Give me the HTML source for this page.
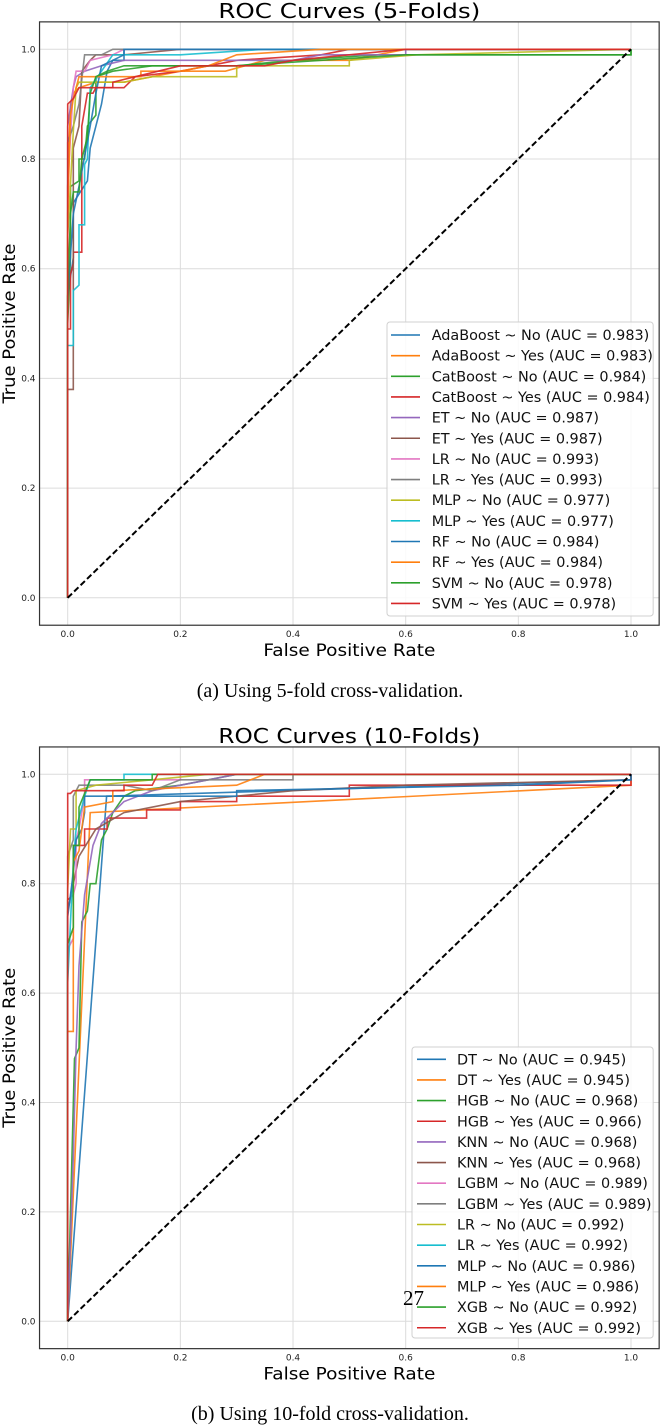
<!DOCTYPE html>
<html><head><meta charset="utf-8">
<style>
html,body{margin:0;padding:0;background:#fff;}
svg{display:block;}
text{font-family:"DejaVu Sans","Liberation Sans",sans-serif;}
.serif{font-family:"Liberation Serif",serif;}
</style></head>
<body>
<svg id="fig" width="661" height="1425" viewBox="0 0 661 1425" xmlns="http://www.w3.org/2000/svg">
<g id="chartA"></g>
<g id="chartB"></g>
<text x="330" y="697" text-anchor="middle" font-size="20" class="serif">(a) Using 5-fold cross-validation.</text>
<text x="330" y="1420" text-anchor="middle" font-size="20" class="serif">(b) Using 10-fold cross-validation.</text>
</svg>
<script>
const ticks = [0, 0.2, 0.4, 0.6, 0.8, 1.0];
const tickLabels = ["0.0", "0.2", "0.4", "0.6", "0.8", "1.0"];
const colors = ["#1f77b4","#ff7f0e","#2ca02c","#d62728","#9467bd","#8c564b","#e377c2","#7f7f7f","#bcbd22","#17becf","#1f77b4","#ff7f0e","#2ca02c","#d62728"];

const namesA = ["AdaBoost ~ No","AdaBoost ~ Yes","CatBoost ~ No","CatBoost ~ Yes","ET ~ No","ET ~ Yes","LR ~ No","LR ~ Yes","MLP ~ No","MLP ~ Yes","RF ~ No","RF ~ Yes","SVM ~ No","SVM ~ Yes"];
const aucA = ["0.983","0.983","0.984","0.984","0.987","0.987","0.993","0.993","0.977","0.977","0.984","0.984","0.978","0.978"];
const curvesA = [
 [[0,0],[0,0.55],[0.01,0.62],[0.01,0.72],[0.035,0.76],[0.04,0.82],[0.05,0.86],[0.06,0.9],[0.07,0.96],[0.08,0.98],[0.1,0.98],[0.1,1],[1,1]],
 [[0,0],[0,0.75],[0.005,0.9],[0.01,0.92],[0.02,0.93],[0.05,0.94],[0.1,0.94],[0.15,0.95],[0.2,0.96],[0.28,0.96],[0.35,0.98],[0.5,0.98],[0.6,1],[1,1]],
 [[0,0],[0,0.5],[0.005,0.62],[0.005,0.75],[0.02,0.76],[0.02,0.8],[0.03,0.8],[0.035,0.86],[0.05,0.88],[0.05,0.95],[0.08,0.96],[0.15,0.97],[0.3,0.97],[0.4,0.98],[0.55,0.99],[1,0.99],[1,1]],
 [[0,0],[0,0.49],[0.005,0.49],[0.005,0.59],[0.01,0.61],[0.01,0.63],[0.025,0.63],[0.025,0.86],[0.035,0.92],[0.045,0.92],[0.05,0.93],[0.1,0.93],[0.12,0.95],[0.2,0.96],[0.25,0.97],[0.3,0.98],[0.45,0.99],[0.5,1],[1,1]],
 [[0,0],[0,0.86],[0.01,0.93],[0.015,0.95],[0.03,0.96],[0.06,0.97],[0.1,0.98],[0.4,0.98],[0.45,0.99],[0.6,0.99],[0.6,1],[1,1]],
 [[0,0],[0,0.38],[0.01,0.38],[0.01,0.82],[0.02,0.86],[0.025,0.96],[0.04,0.98],[0.05,0.99],[0.1,0.99],[0.2,1],[1,1]],
 [[0,0],[0,0.75],[0.01,0.93],[0.015,0.96],[0.03,0.96],[0.04,0.98],[0.08,0.99],[0.1,1],[1,1]],
 [[0,0],[0,0.83],[0.01,0.86],[0.02,0.9],[0.03,0.99],[0.06,0.99],[0.08,1],[1,1]],
 [[0,0],[0,0.66],[0.01,0.85],[0.015,0.93],[0.02,0.94],[0.1,0.94],[0.15,0.95],[0.3,0.95],[0.3,0.97],[0.5,0.97],[0.5,0.98],[0.62,0.99],[1,1]],
 [[0,0],[0,0.46],[0.01,0.46],[0.01,0.56],[0.02,0.57],[0.02,0.68],[0.03,0.68],[0.03,0.79],[0.035,0.8],[0.04,0.93],[0.06,0.96],[0.08,0.99],[0.2,0.99],[0.35,1],[1,1]],
 [[0,0],[0,0.55],[0.01,0.7],[0.02,0.75],[0.04,0.86],[0.05,0.92],[0.06,0.97],[0.08,0.98],[0.1,0.99],[0.1,1],[1,1]],
 [[0,0],[0,0.7],[0.005,0.88],[0.01,0.91],[0.02,0.95],[0.13,0.95],[0.13,0.96],[0.2,0.96],[0.25,0.97],[0.3,0.99],[0.45,1],[1,1]],
 [[0,0],[0,0.55],[0.005,0.7],[0.01,0.74],[0.02,0.74],[0.025,0.8],[0.035,0.84],[0.04,0.92],[0.05,0.95],[0.07,0.96],[0.1,0.97],[0.3,0.97],[0.45,0.98],[0.6,0.99],[1,0.99],[1,1]],
 [[0,0],[0,0.9],[0.01,0.91],[0.02,0.93],[0.08,0.93],[0.08,0.94],[0.12,0.95],[0.2,0.97],[0.35,0.97],[0.4,0.98],[0.5,0.99],[0.6,1],[1,1]]
];

const namesB = ["DT ~ No","DT ~ Yes","HGB ~ No","HGB ~ Yes","KNN ~ No","KNN ~ Yes","LGBM ~ No","LGBM ~ Yes","LR ~ No","LR ~ Yes","MLP ~ No","MLP ~ Yes","XGB ~ No","XGB ~ Yes"];
const aucB = ["0.945","0.945","0.968","0.966","0.968","0.968","0.989","0.989","0.992","0.992","0.986","0.986","0.992","0.992"];
const curvesB = [
 [[0,0],[0.069,0.96],[1,0.99],[1,1]],
 [[0,0],[0.04,0.93],[1,0.98],[1,1]],
 [[0,0],[0.012,0.48],[0.02,0.5],[0.025,0.73],[0.035,0.75],[0.04,0.8],[0.05,0.8],[0.06,0.88],[0.07,0.9],[0.08,0.93],[0.1,0.96],[0.12,0.97],[0.2,0.98],[0.3,1],[1,1]],
 [[0,0],[0,0.77],[0.01,0.78],[0.01,0.87],[0.03,0.87],[0.03,0.9],[0.07,0.9],[0.07,0.92],[0.14,0.92],[0.14,0.935],[0.2,0.935],[0.2,0.95],[0.3,0.95],[0.3,0.96],[0.5,0.96],[0.5,0.98],[1,0.98],[1,1]],
 [[0,0],[0.01,0.3],[0.015,0.5],[0.02,0.65],[0.03,0.78],[0.045,0.87],[0.06,0.91],[0.1,0.95],[0.15,0.97],[0.2,0.98],[0.25,0.99],[0.3,1],[1,1]],
 [[0,0],[0,0.75],[0.02,0.85],[0.05,0.9],[0.1,0.93],[0.2,0.95],[0.4,0.97],[0.6,0.98],[1,0.99],[1,1]],
 [[0,0],[0,0.68],[0.01,0.7],[0.01,0.78],[0.015,0.8],[0.015,0.88],[0.02,0.9],[0.03,0.96],[0.03,0.99],[0.2,0.99],[0.2,1],[1,1]],
 [[0,0],[0,0.85],[0.01,0.88],[0.01,0.96],[0.02,0.98],[0.1,0.98],[0.15,0.97],[0.2,0.99],[0.4,0.99],[0.4,1],[1,1]],
 [[0,0],[0,0.79],[0.005,0.9],[0.015,0.9],[0.015,0.97],[0.05,0.98],[0.15,0.99],[0.25,1],[1,1]],
 [[0,0],[0,0.62],[0.01,0.84],[0.015,0.9],[0.03,0.96],[0.04,0.99],[0.1,0.99],[0.1,1],[1,1]],
 [[0,0],[0,0.74],[0.01,0.82],[0.015,0.88],[0.025,0.9],[0.03,0.93],[0.03,0.96],[0.08,0.96],[0.3,0.96],[0.3,0.97],[0.8,0.98],[1,0.99],[1,1]],
 [[0,0],[0,0.53],[0.01,0.53],[0.01,0.84],[0.02,0.86],[0.03,0.94],[0.08,0.95],[0.08,0.97],[0.3,0.98],[0.35,1],[1,1]],
 [[0,0],[0,0.69],[0.01,0.72],[0.01,0.87],[0.02,0.87],[0.02,0.94],[0.04,0.99],[0.15,0.99],[0.15,1],[1,1]],
 [[0,0],[0,0.965],[0.005,0.965],[0.01,0.97],[0.1,0.97],[0.1,0.98],[0.15,0.98],[0.16,1],[1,1]]
];

const NS = "http://www.w3.org/2000/svg";
function mk(tag, attrs, parent){
  const e = document.createElementNS(NS, tag);
  for (const k in attrs) e.setAttribute(k, attrs[k]);
  parent.appendChild(e);
  return e;
}

function drawChart(g, cfg){
  const x0 = 67.7, x1 = 631.0;
  const sx = v => x0 + v * (x1 - x0);
  const sy = v => cfg.y0 + v * (cfg.y1 - cfg.y0);
  const left = sx(-0.05), right = sx(1.05), top = sy(1.05), bottom = sy(-0.05);

  ticks.forEach((t, i) => {
    const gx = mk("line", {x1: sx(t), x2: sx(t), y1: top, y2: bottom, stroke: "#dcdcdc", "stroke-width": 1}, g);
    
    
    const gy = mk("line", {x1: left, x2: right, y1: sy(t), y2: sy(t), stroke: "#dcdcdc", "stroke-width": 1}, g);
    
    
    const tx = mk("text", {x: sx(t), y: bottom + 12, "text-anchor": "middle", "font-size": 9, fill: "#222"}, g);
    tx.textContent = tickLabels[i];
    
    
    const ty = mk("text", {x: left - 4, y: sy(t) + 3, "text-anchor": "end", "font-size": 9, fill: "#222"}, g);
    ty.textContent = tickLabels[i];
    
    
  });

  cfg.curves.forEach((c, i) => {
    const d = c.map((p, j) => (j ? "L" : "M") + sx(p[0]).toFixed(1) + " " + sy(p[1]).toFixed(1)).join(" ");
    const path = mk("path", {d: d, fill: "none", stroke: colors[i], "stroke-width": 1.6, "stroke-linejoin": "miter", opacity: 0.9}, g);
    
    
  });
  const diag = mk("line", {x1: sx(0), y1: sy(0), x2: sx(1), y2: sy(1), stroke: "#000", "stroke-width": 2, "stroke-dasharray": "6,3"}, g);
  
  

  const fr = mk("rect", {x: left, y: top, width: right - left, height: bottom - top, fill: "none", stroke: "#333", "stroke-width": 1.2}, g);
  
  

  const cx = (left + right) / 2;
  const ti = mk("text", {x: cx, y: cfg.titleY, "text-anchor": "middle", "font-size": 20, fill: "#000", textLength: 262, lengthAdjust: "spacingAndGlyphs"}, g);
  ti.textContent = cfg.title;
  
  
  const xl = mk("text", {x: cx, y: bottom + 31, "text-anchor": "middle", "font-size": 17, fill: "#000", textLength: 172, lengthAdjust: "spacingAndGlyphs"}, g);
  xl.textContent = "False Positive Rate";
  
  
  const cy = (top + bottom) / 2;
  const yl = mk("text", {x: 15, y: cy, "text-anchor": "middle", "font-size": 17, fill: "#000", transform: "rotate(-90 15 " + cy + ")", textLength: 160, lengthAdjust: "spacingAndGlyphs"}, g);
  yl.textContent = "True Positive Rate";
  
  

  const L = cfg.legend;
  const lb = mk("rect", {x: L.x, y: L.y, width: right - 6 - L.x, height: L.h, rx: 3, fill: "#fff", "fill-opacity": 0.85, stroke: "#d0d0d0", "stroke-width": 1}, g);
  
  
  cfg.names.forEach((n, i) => {
    const yy = L.first + i * 20.65;
    const ln = mk("line", {x1: L.lx, x2: L.lx + 29, y1: yy, y2: yy, stroke: colors[i], "stroke-width": 1.6}, g);
    
    
    const tt = mk("text", {x: L.tx, y: yy + 5, "font-size": 14.4, fill: "#111"}, g);
    tt.textContent = n + " (AUC = " + cfg.aucs[i] + ")";
    
    
  });
}

drawChart(document.getElementById("chartA"), {
  y0: 597.8, y1: 49.3, titleY: 18, title: "ROC Curves (5-Folds)",
  curves: curvesA, names: namesA, aucs: aucA,
  legend: {x: 387, y: 322, h: 294, first: 335, lx: 391, tx: 431.7}
});
drawChart(document.getElementById("chartB"), {
  y0: 1321.3, y1: 774.3, titleY: 743, title: "ROC Curves (10-Folds)",
  curves: curvesB, names: namesB, aucs: aucB,
  legend: {x: 412, y: 1047, h: 291, first: 1059.3, lx: 417, tx: 457}
});

const pn = mk("text", {x: 403, y: 1305, "font-size": 21, fill: "#000", class: "serif"}, document.getElementById("fig"));
pn.textContent = "27";


</script>
</body></html>
